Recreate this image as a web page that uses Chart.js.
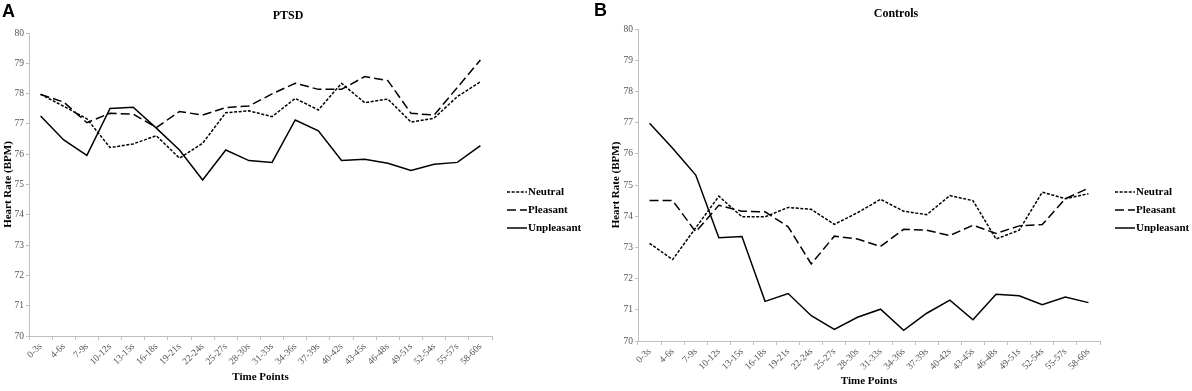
<!DOCTYPE html>
<html><head><meta charset="utf-8">
<script src="https://cdn.jsdelivr.net/npm/chart.js@4.4.0/dist/chart.umd.min.js"></script>
<style>
html,body{margin:0;padding:0;background:#fff;width:1192px;height:391px;overflow:hidden}
canvas{position:absolute;top:0}
</style></head>
<body>
<canvas id="a" width="590" height="391" style="left:0px"></canvas>
<canvas id="b" width="602" height="391" style="left:590px"></canvas>
<script>
// ---- data ----
const categories = ['0-3s','4-6s','7-9s','10-12s','13-15s','16-18s','19-21s','22-24s','25-27s','28-30s','31-33s','34-36s','37-39s','40-42s','43-45s','46-48s','49-51s','52-54s','55-57s','58-60s'];
const seriesNames = ['Neutral','Pleasant','Unpleasant'];
const ptsdNeutral    = [77.98,77.58,77.17,76.22,76.34,76.61,75.87,76.36,77.37,77.43,77.24,77.84,77.46,78.34,77.70,77.82,77.06,77.19,77.90,78.39];
const ptsdPleasant   = [77.97,77.72,77.04,77.35,77.32,76.88,77.41,77.29,77.54,77.59,77.99,78.34,78.14,78.14,78.56,78.43,77.35,77.29,78.20,79.11];
const ptsdUnpleasant = [77.26,76.47,75.96,77.51,77.55,76.86,76.14,75.15,76.14,75.79,75.73,77.13,76.77,75.79,75.83,75.70,75.46,75.67,75.73,76.28];
const ctrlNeutral    = [73.13,72.61,73.63,74.64,73.98,73.98,74.28,74.22,73.74,74.11,74.54,74.16,74.05,74.66,74.50,73.27,73.55,74.77,74.56,74.72];
const ctrlPleasant   = [74.50,74.50,73.50,74.35,74.16,74.14,73.66,72.47,73.36,73.27,73.03,73.58,73.55,73.38,73.71,73.45,73.69,73.73,74.56,74.90];
const ctrlUnpleasant = [76.98,76.18,75.32,73.31,73.35,71.27,71.52,70.81,70.37,70.76,71.02,70.34,70.89,71.31,70.68,71.50,71.45,71.16,71.41,71.23];
const yMin = 70, yMax = 80, yStep = 1;
const yTitle = 'Heart Rate (BPM)';
const xTitle = 'Time Points';

const SERIF = "'Liberation Serif','Times New Roman',serif";
const SANS = "'Liberation Sans',Arial,sans-serif";

const dashes = [[3,1.6],[9,4],[]];

const decor = {
  id: 'decor',
  afterDraw(chart, args, o) {
    const ctx = chart.ctx;
    ctx.save();
    ctx.fillStyle = '#000';
    ctx.textAlign = 'left'; ctx.textBaseline = 'alphabetic';
    ctx.font = "bold 18px " + SANS;
    ctx.fillText(o.letter, o.letterX, o.letterY);
    ctx.font = "bold 12px " + SERIF;
    ctx.textAlign = 'center';
    ctx.fillText(o.title, o.titleX, o.titleY);
    ctx.font = "bold 11px " + SERIF;
    ctx.textAlign = 'left'; ctx.textBaseline = 'middle';
    chart.data.datasets.forEach((ds, i) => {
      const y = o.legendY + i * 18;
      ctx.beginPath();
      ctx.setLineDash(ds.borderDash || []);
      ctx.lineWidth = ds.borderWidth;
      ctx.strokeStyle = ds.borderColor;
      ctx.moveTo(o.legendX, y); ctx.lineTo(o.legendX + 20, y);
      ctx.stroke();
      ctx.setLineDash([]);
      ctx.fillText(ds.label, o.legendX + 21, y + 0.5);
    });
    ctx.restore();
  }
};

function build(id, values, p) {
  const datasets = values.map((v, i) => ({
    label: seriesNames[i],
    data: v,
    borderColor: '#000',
    borderWidth: 1.5,
    borderDash: dashes[i],
    pointRadius: 0,
    fill: false,
    tension: 0
  }));
  return new Chart(document.getElementById(id), {
    type: 'line',
    data: { labels: categories, datasets },
    plugins: [decor],
    options: {
      responsive: false,
      animation: false,
      devicePixelRatio: 1,
      layout: { padding: { left: 0, top: p.top, right: p.right, bottom: 0 } },
      plugins: {
        legend: { display: false },
        title: { display: false },
        tooltip: { enabled: false },
        decor: p.decor
      },
      scales: {
        x: {
          type: 'category',
          offset: true,
          grid: { offset: true, drawOnChartArea: false, drawTicks: true, tickLength: 4, color: '#c0c0c0' },
          border: { display: true, color: '#c0c0c0', width: 1 },
          ticks: { autoSkip: false, minRotation: 45, maxRotation: 45, padding: 1, color: '#555', font: { family: SERIF, size: 9.5 } },
          title: { display: true, text: xTitle, color: '#000', font: { family: SERIF, size: 11, weight: 'bold' }, padding: { top: 0, bottom: p.xTitlePad } },
          afterFit: (s) => { s.height = p.xH; }
        },
        y: {
          min: yMin, max: yMax,
          grid: { drawOnChartArea: false, drawTicks: true, tickLength: 3, color: '#c0c0c0' },
          border: { display: true, color: '#c0c0c0', width: 1 },
          ticks: { stepSize: yStep, padding: 2, color: '#555', font: { family: SERIF, size: 9.5 } },
          title: { display: true, text: yTitle, color: '#000', font: { family: SERIF, size: 11, weight: 'bold' }, padding: { top: p.yTitlePad, bottom: 0 } },
          afterFit: (s) => { s.width = p.yW; }
        }
      }
    }
  });
}

build('a', [ptsdNeutral, ptsdPleasant, ptsdUnpleasant], {
  top: 33, right: 98, xH: 55, yW: 29, xTitlePad: 7.4, yTitlePad: 1.4,
  decor: { letter: 'A', letterX: 2, letterY: 17, title: 'PTSD', titleX: 288, titleY: 18.5, legendX: 507, legendY: 192 }
});
build('b', [ctrlNeutral, ctrlPleasant, ctrlUnpleasant], {
  top: 29, right: 92, xH: 50, yW: 48, xTitlePad: 3.4, yTitlePad: 19.4,
  decor: { letter: 'B', letterX: 4, letterY: 16, title: 'Controls', titleX: 306, titleY: 16.5, legendX: 525, legendY: 192 }
});
</script>
</body></html>
